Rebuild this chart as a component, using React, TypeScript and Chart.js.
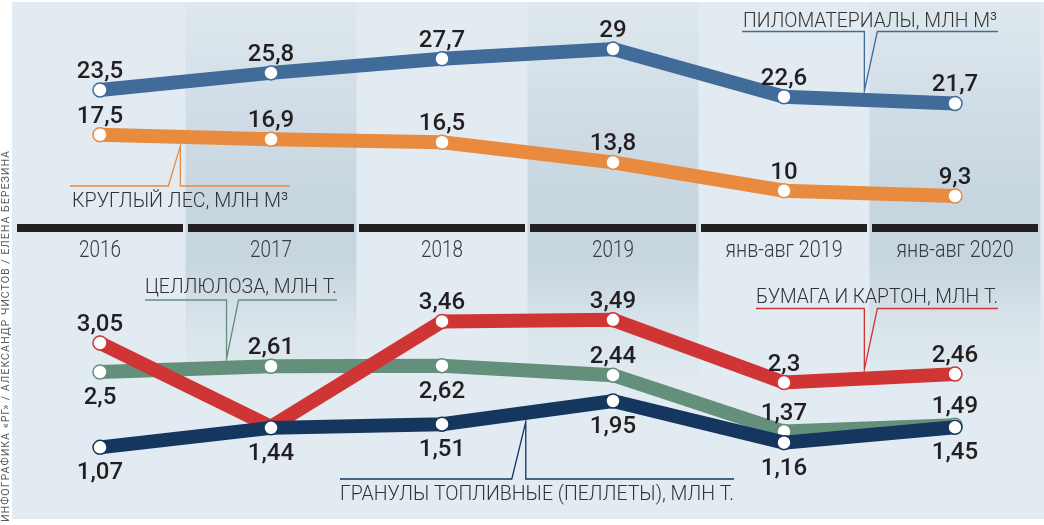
import React, { useEffect, useRef } from 'react';
import { Chart, registerables } from 'chart.js';

Chart.register(...registerables);

// ---------- data ----------
const categories = ['2016', '2017', '2018', '2019', 'янв-авг 2019', 'янв-авг 2020'];
const lumber = [23.5, 25.8, 27.7, 29, 22.6, 21.7];
const roundwood = [17.5, 16.9, 16.5, 13.8, 10, 9.3];
const paper = [3.05, 1.46, 3.46, 3.49, 2.3, 2.46];
const cellulose = [2.5, 2.61, 2.62, 2.44, 1.37, 1.49];
const pellets = [1.07, 1.44, 1.51, 1.95, 1.16, 1.45];

// value label placement per point: 'a' above, 'b' below, '' none
const lumberLabelPos = ['a', 'a', 'a', 'a', 'a', 'a'];
const roundwoodLabelPos = ['a', 'a', 'a', 'a', 'a', 'a'];
const paperLabelPos = ['a', '', 'a', 'a', 'a', 'a'];
const celluloseLabelPos = ['b', 'a', 'b', 'a', 'a', 'a'];
const pelletsLabelPos = ['b', 'b', 'b', 'b', 'b', 'b'];

const seriesNames = [
  'ПИЛОМАТЕРИАЛЫ, МЛН М³',
  'КРУГЛЫЙ ЛЕС, МЛН М³',
  'ГРАНУЛЫ ТОПЛИВНЫЕ (ПЕЛЛЕТЫ), МЛН Т.',
  'БУМАГА И КАРТОН, МЛН Т.',
  'ЦЕЛЛЮЛОЗА, МЛН Т.',
];

const credit = 'ИНФОГРАФИКА «РГ» / АЛЕКСАНДР ЧИСТОВ / ЕЛЕНА БЕРЕЗИНА';

// axis ranges (top panel and bottom panel share the full canvas height)
const topRange = { min: -34.81, max: 35.57 };
const bottomRange = { min: -0.403, max: 9.559 };

// ---------- styles ----------
const colors = ['#416c99', '#e98b3f', '#14365f', '#d03535', '#648f7a'];
const labelPositions = [lumberLabelPos, roundwoodLabelPos, pelletsLabelPos, paperLabelPos, celluloseLabelPos];

// callouts: dataset, fractional category position of pointer tip, side of the line,
// text box, underline y, pointer base offsets
const callouts = [
  { ds: 0, frac: 4.47, side: 'top', textL: 743, textR: 997, base: 27, lineY: 31.5, x1: 742, x2: 998, a: 0, b: 13 },
  { ds: 1, frac: 0.47, side: 'bottom', textL: 72, textR: 288, base: 207, lineY: 186, x1: 70, x2: 290, a: -12, b: 0 },
  { ds: 4, frac: 0.74, side: 'top', textL: 145, textR: 337, base: 293, lineY: 300, x1: 145, x2: 337, a: 0, b: 12 },
  { ds: 3, frac: 4.47, side: 'top', textL: 756, textR: 998, base: 303, lineY: 308.5, x1: 756, x2: 998, a: 0, b: 13 },
  { ds: 2, frac: 2.49, side: 'bottom', textL: 340, textR: 734, base: 500, lineY: 479, x1: 340, x2: 734, a: -14, b: 0 },
];

const LINE_W = 14;

const fmt = (v: number) => String(v).replace('.', ',');

const backgroundPlugin = {
  id: 'bgPanel',
  beforeDraw(chart: any) {
    const { ctx, width, height } = chart;
    const x = chart.scales.x;
    ctx.save();
    ctx.fillStyle = '#ffffff';
    ctx.fillRect(0, 0, width, height);
    ctx.fillStyle = '#e2ebf1';
    ctx.fillRect(12, 2, width - 12, 517);
    const n = categories.length;
    const step = (chart.chartArea.right - chart.chartArea.left) / n;
    // darker alternate columns
    const g = ctx.createLinearGradient(0, 2, 0, 519);
    g.addColorStop(0, 'rgba(196,211,222,0.15)');
    g.addColorStop(0.2, 'rgba(196,211,222,0.55)');
    g.addColorStop(0.38, 'rgba(196,211,222,0.9)');
    g.addColorStop(0.5, 'rgba(196,211,222,0.9)');
    g.addColorStop(0.62, 'rgba(196,211,222,0.35)');
    g.addColorStop(0.75, 'rgba(196,211,222,0)');
    g.addColorStop(1, 'rgba(196,211,222,0)');
    ctx.fillStyle = g;
    for (let i = 1; i < n; i += 2) {
      const cx = x.getPixelForValue(i);
      ctx.fillRect(cx - step / 2, 2, step, 517);
    }
    // black separator bars
    ctx.fillStyle = '#231f20';
    for (let i = 0; i < n; i++) {
      const cx = x.getPixelForValue(i);
      ctx.fillRect(cx - step / 2 + 2.5, 224, step - 5, 8);
    }
    // category labels
    ctx.fillStyle = '#3a3a3a';
    ctx.font = '300 23px Roboto';
    ctx.textAlign = 'center';
    ctx.textBaseline = 'alphabetic';
    for (let i = 0; i < n; i++) {
      const cx = x.getPixelForValue(i);
      ctx.save();
      ctx.translate(cx, 257);
      ctx.scale(i >= 4 ? 0.86 : 0.82, 1);
      ctx.fillText(categories[i], 0, 0);
      ctx.restore();
    }
    // credit
    ctx.save();
    ctx.translate(9, 522);
    ctx.rotate(-Math.PI / 2);
    ctx.font = '400 11px Roboto';
    (ctx as any).letterSpacing = '1px';
    ctx.fillStyle = '#5a5a5a';
    ctx.textAlign = 'left';
    const w = ctx.measureText(credit).width;
    ctx.scale(372 / w, 1);
    ctx.fillText(credit, 0, 0);
    ctx.restore();
    ctx.restore();
  },
};

const annotationPlugin = {
  id: 'annotations',
  afterDatasetsDraw(chart: any) {
    const { ctx } = chart;
    const x = chart.scales.x;
    ctx.save();
    // callouts
    callouts.forEach((c) => {
      const ds = chart.data.datasets[c.ds];
      const yScale = chart.scales[ds.yAxisID];
      const i0 = Math.floor(c.frac);
      const t = c.frac - i0;
      const v = ds.data[i0] + (ds.data[i0 + 1] - ds.data[i0]) * t;
      const tipX = x.getPixelForValue(i0) + (x.getPixelForValue(i0 + 1) - x.getPixelForValue(i0)) * t;
      const lineY = yScale.getPixelForValue(v);
      const tipY = c.side === 'top' ? lineY - LINE_W / 2 - 2 : lineY + LINE_W / 2 + 2;
      ctx.strokeStyle = colors[c.ds];
      ctx.lineWidth = 1.3;
      ctx.lineJoin = 'miter';
      ctx.beginPath();
      ctx.moveTo(c.x1, c.lineY);
      ctx.lineTo(tipX + c.a, c.lineY);
      ctx.lineTo(tipX, tipY);
      ctx.lineTo(tipX + c.b, c.lineY);
      ctx.lineTo(c.x2, c.lineY);
      ctx.stroke();
      // text
      ctx.font = '300 21px Roboto';
      ctx.fillStyle = '#333333';
      ctx.textAlign = 'left';
      ctx.textBaseline = 'alphabetic';
      const text = seriesNames[c.ds];
      const w = ctx.measureText(text).width;
      ctx.save();
      ctx.translate(c.textL, c.base);
      ctx.scale((c.textR - c.textL) / w, 1);
      ctx.fillText(text, 0, 0);
      ctx.restore();
    });
    // value labels
    ctx.font = '500 24px Roboto';
    ctx.fillStyle = '#231f20';
    ctx.textAlign = 'center';
    ctx.textBaseline = 'alphabetic';
    chart.data.datasets.forEach((ds: any, di: number) => {
      const meta = chart.getDatasetMeta(di);
      meta.data.forEach((pt: any, i: number) => {
        const pos = labelPositions[di][i];
        if (!pos) return;
        const y = pos === 'a' ? pt.y - 12 : pt.y + 32;
        ctx.fillText(fmt(ds.data[i]), pt.x, y);
      });
    });
    ctx.restore();
  },
};

function makeDataset(label: string, data: number[], color: string, axis: string, order: number) {
  return {
    label,
    data,
    yAxisID: axis,
    order,
    borderColor: color,
    backgroundColor: color,
    borderWidth: LINE_W,
    borderJoinStyle: 'miter' as const,
    tension: 0,
    fill: false,
    pointRadius: 7,
    pointBackgroundColor: '#ffffff',
    pointBorderColor: color,
    pointBorderWidth: 1.5,
  };
}

export default function App() {
  const canvasRef = useRef<HTMLCanvasElement | null>(null);

  useEffect(() => {
    document.body.style.margin = '0';
    const canvas = canvasRef.current;
    if (!canvas) return;
    const chart = new Chart(canvas, {
      type: 'line',
      data: {
        labels: categories,
        datasets: [
          makeDataset(seriesNames[0], lumber, colors[0], 'yTop', 0),
          makeDataset(seriesNames[1], roundwood, colors[1], 'yTop', 1),
          makeDataset(seriesNames[2], pellets, colors[2], 'yBot', 2),
          makeDataset(seriesNames[3], paper, colors[3], 'yBot', 3),
          makeDataset(seriesNames[4], cellulose, colors[4], 'yBot', 4),
        ],
      },
      options: {
        responsive: false,
        animation: false,
        layout: { autoPadding: false, padding: { left: 14.5, right: 3.5, top: 0, bottom: 0 } },
        plugins: {
          legend: { display: false },
          tooltip: { enabled: false },
        },
        scales: {
          x: { type: 'category', offset: true, display: false },
          yTop: { type: 'linear', display: false, min: topRange.min, max: topRange.max },
          yBot: { type: 'linear', display: false, min: bottomRange.min, max: bottomRange.max },
        },
      },
      plugins: [backgroundPlugin, annotationPlugin],
    });
    return () => chart.destroy();
  }, []);

  return (
    <div style={{ position: 'absolute', left: 0, top: 0, width: 1044, height: 525 }}>
      <canvas ref={canvasRef} width={1044} height={525} style={{ display: 'block' }} />
    </div>
  );
}
